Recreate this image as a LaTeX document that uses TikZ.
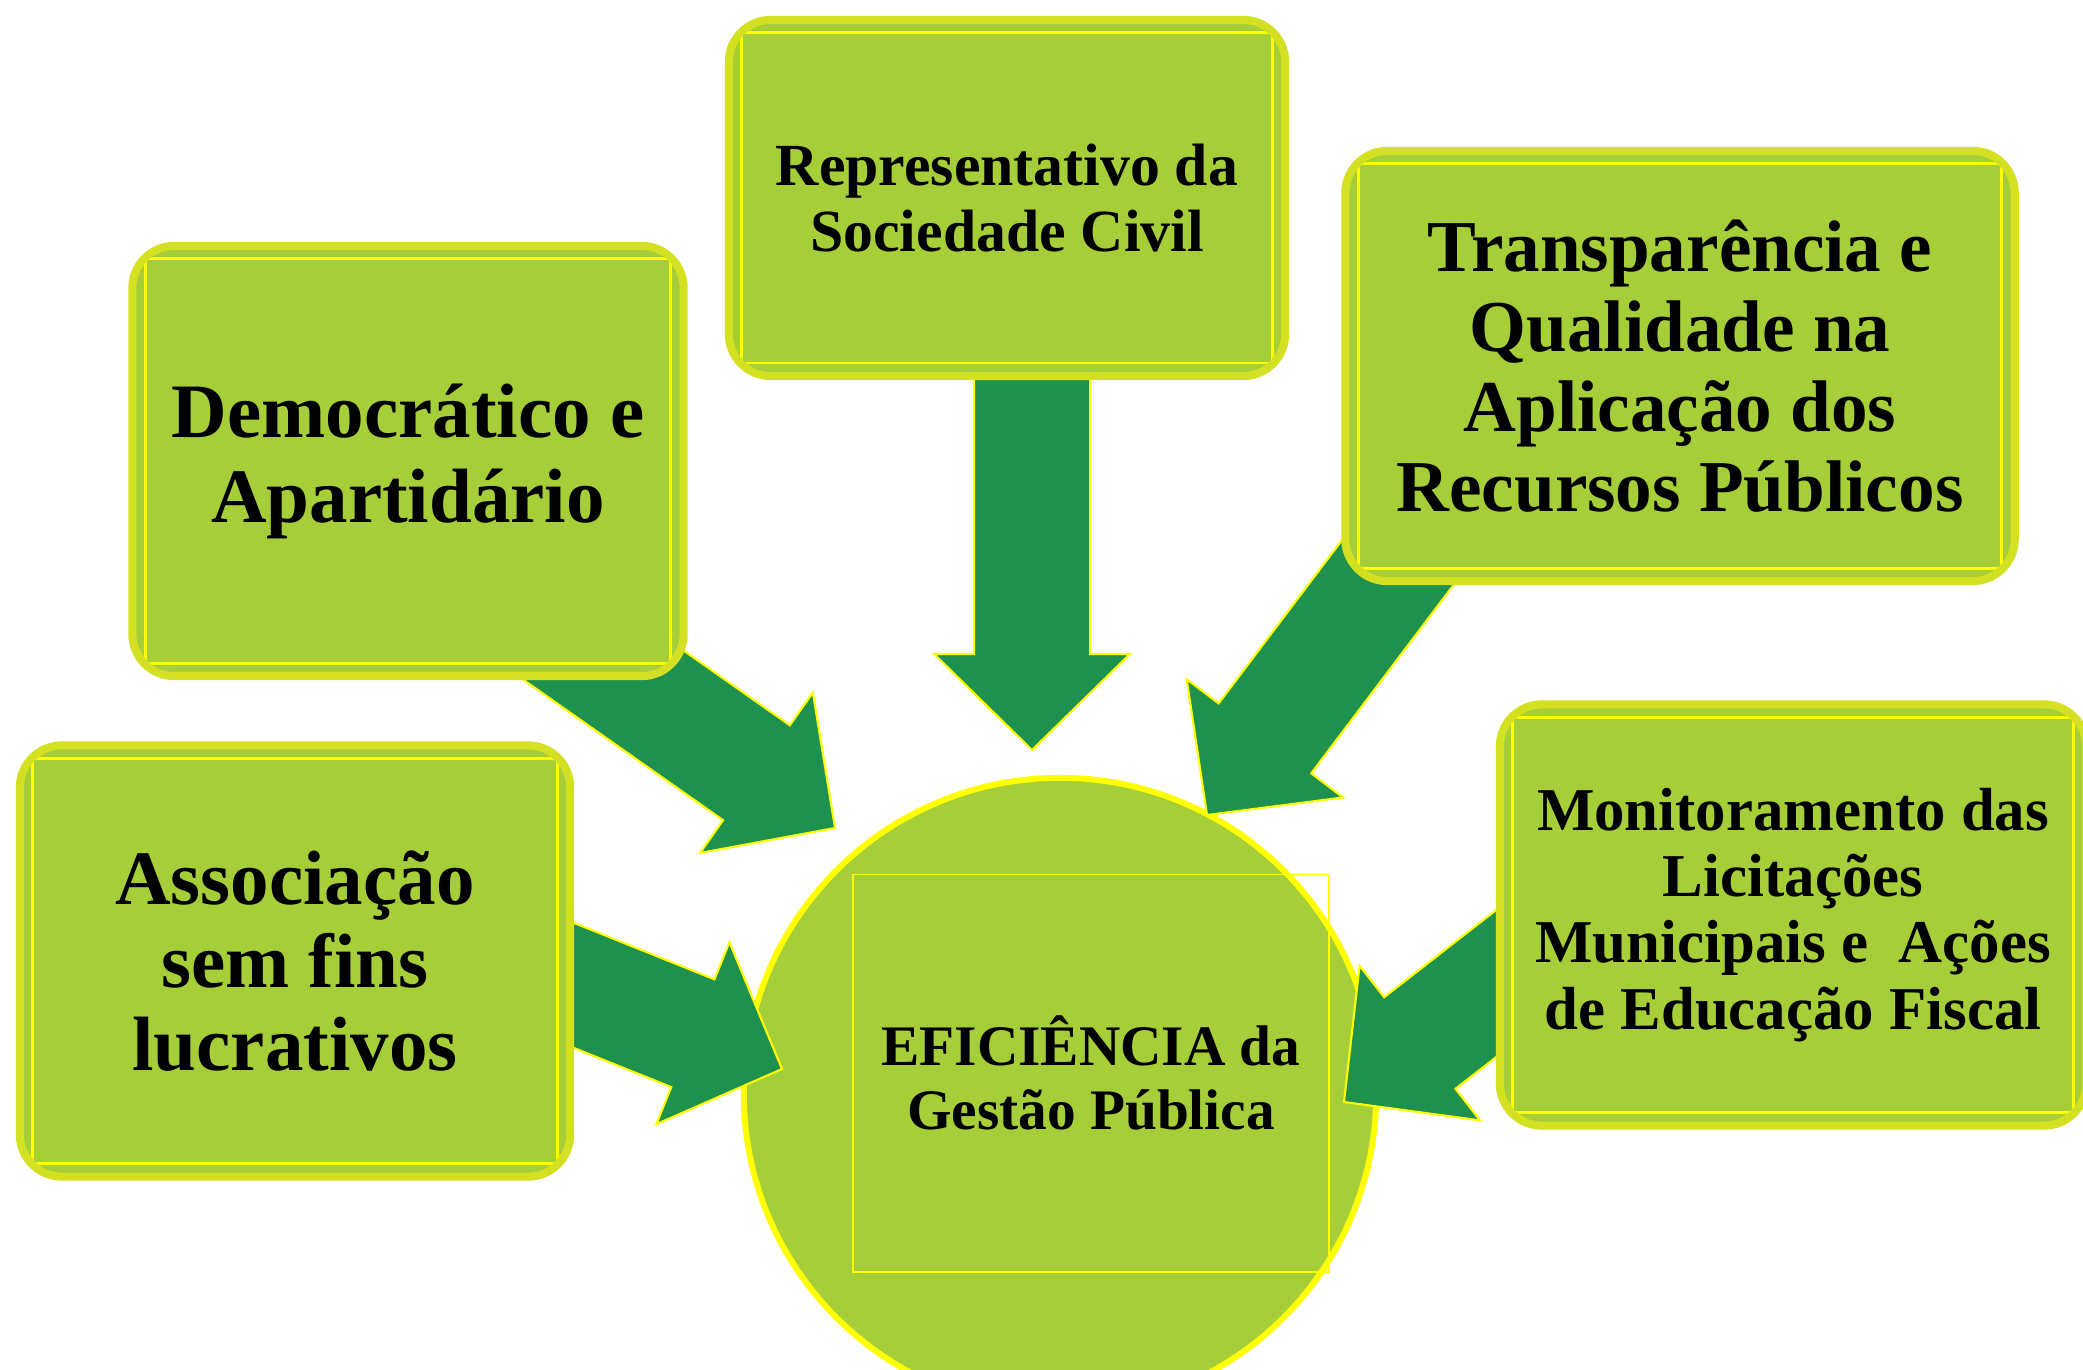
\documentclass[tikz,border=0pt]{standalone}
\usepackage{fontspec}
\setmainfont{Liberation Serif}
\usetikzlibrary{calc}

\definecolor{verdeclaro}{RGB}{166,206,57}
\definecolor{verdeescuro}{RGB}{31,145,79}
\definecolor{bordaverde}{RGB}{212,224,34}
\definecolor{amarelo}{RGB}{255,255,0}

\tikzset{
  caixa/.style={rectangle, rounded corners=0.42cm, draw=bordaverde, line width=2.3pt,
    fill=verdeclaro, align=center, inner sep=0pt,
    path picture={\draw[amarelo, line width=0.8pt, sharp corners]
      ([shift={(0.13cm,-0.13cm)}]path picture bounding box.north west) rectangle
      ([shift={(-0.13cm,0.13cm)}]path picture bounding box.south east);}},
  circulo/.style={circle, draw=amarelo, line width=1.7pt, fill=verdeclaro,
    minimum size=6.32cm, inner sep=0pt},
  quadro/.style={rectangle, draw=amarelo, line width=0.5pt, align=center,
    minimum width=4.76cm, minimum height=3.97cm, inner sep=0pt},
  seta/.style={fill=verdeescuro, draw=amarelo, line width=0.6pt},
}

% seta grossa de #1 (dentro da caixa) ate a ponta #2
\newcommand{\seta}[2]{%
  \coordinate (base) at ($(#2)!0.96cm!(#1)$);
  \draw[seta] ($(#1)!0.58cm!90:(#2)$) -- ($(base)!0.58cm!90:(#2)$)
    -- ($(base)!0.98cm!90:(#2)$) -- (#2) -- ($(base)!0.98cm!-90:(#2)$)
    -- ($(base)!0.58cm!-90:(#2)$) -- ($(#1)!0.58cm!-90:(#2)$) -- cycle;
}

\begin{document}
\begin{tikzpicture}[x=0.01cm, y=0.01cm]
  \useasboundingbox (0,0) rectangle (2083,1369);

  \node (Efic) [circulo] at (1060,275) {};
  \node (Gestao) [quadro, font=\bfseries\fontsize{16.3}{18.2}\selectfont] at (1091,296)
    {EFICIÊNCIA da\\Gestão Pública};

  \coordinate (D0) at (508,771);  \coordinate (D1) at (835,541);
  \coordinate (R0) at (1032,1069); \coordinate (R1) at (1032,619);
  \coordinate (T0) at (1448,873); \coordinate (T1) at (1207,554);
  \coordinate (A0) at (411,449);  \coordinate (A1) at (782,300);
  \coordinate (M0) at (1660,513); \coordinate (M1) at (1344,267);
  \seta{D0}{D1}
  \seta{R0}{R1}
  \seta{T0}{T1}
  \seta{A0}{A1}
  \seta{M0}{M1}

  \node (Demo) [caixa, minimum width=5.51cm, minimum height=4.30cm,
    font=\bfseries\fontsize{21.9}{24.2}\selectfont] at (408,908)
    {Democrático e\\Apartidário};
  \node (Repr) [caixa, minimum width=5.56cm, minimum height=3.56cm,
    font=\bfseries\fontsize{17}{18.8}\selectfont] at (1007,1171)
    {Representativo da\\Sociedade Civil};
  \node (Transp) [caixa, minimum width=6.69cm, minimum height=4.30cm,
    font=\bfseries\fontsize{20.8}{22.8}\selectfont] at (1680,1003)
    {Transparência e\\Qualidade na\\Aplicação dos\\Recursos Públicos};
  \node (Assoc) [caixa, minimum width=5.50cm, minimum height=4.31cm,
    font=\bfseries\fontsize{21.9}{23.6}\selectfont] at (295,408)
    {Associação\\sem fins\\lucrativos};
  \node (Monit) [caixa, minimum width=5.86cm, minimum height=4.21cm,
    font=\bfseries\fontsize{17.3}{18.8}\selectfont] at (1793,454)
    {Monitoramento das\\Licitações\\Municipais e\ \ Ações\\de Educação Fiscal};
\end{tikzpicture}
\end{document}
